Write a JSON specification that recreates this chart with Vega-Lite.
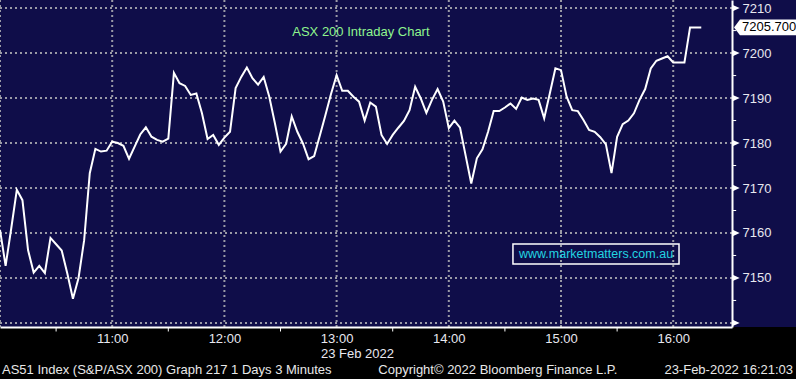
{
  "$schema": "https://vega.github.io/schema/vega-lite/v6.json",
  "width": 732,
  "height": 327,
  "autosize": {"type": "none"},
  "padding": {"left": 0, "top": 0, "right": 64, "bottom": 52},
  "background": "#0f0d49",
  "view": {"stroke": null},
  "layer": [
    {
      "data": {"values": [{}]},
      "mark": {"type": "rect", "fill": "#000000"},
      "encoding": {
        "x": {"datum": {"year":2022,"month":2,"date":23,"hours":9,"minutes":0}, "type": "temporal"},
        "x2": {"datum": {"year":2022,"month":2,"date":23,"hours":18,"minutes":0}},
        "y": {"datum": 7139.1, "type": "quantitative"},
        "y2": {"datum": 7110}
      }
    },
    {
      "data": {"values": [
        {"g":"2022-02-23T10:00"},{"g":"2022-02-23T11:00"},{"g":"2022-02-23T12:00"},{"g":"2022-02-23T13:00"},
        {"g":"2022-02-23T14:00"},{"g":"2022-02-23T15:00"},{"g":"2022-02-23T16:00"}
      ]},
      "mark": {"type": "rule", "stroke": "#9a9aa6", "strokeWidth": 2, "strokeDash": [2, 3]},
      "encoding": {
        "x": {"field": "g", "type": "temporal"},
        "y": {"datum": 7211.8, "type": "quantitative"},
        "y2": {"datum": 7139.1}
      }
    },
    {
      "data": {"values": [
        {"h":7140},{"h":7150},{"h":7160},{"h":7170},{"h":7180},{"h":7190},{"h":7200},{"h":7210}
      ]},
      "mark": {"type": "rule", "stroke": "#9a9aa6", "strokeWidth": 2, "strokeDash": [2, 3]},
      "encoding": {
        "y": {"field": "h", "type": "quantitative"},
        "x": {"datum": {"year":2022,"month":2,"date":23,"hours":10,"minutes":0}, "type": "temporal"},
        "x2": {"datum": {"year":2022,"month":2,"date":23,"hours":16,"minutes":31,"seconds":26}}
      }
    },
    {
      "data": {
        "values": [
          {"t":"2022-02-23T10:00","v":7160.7},{"t":"2022-02-23T10:03","v":7152.7},{"t":"2022-02-23T10:06","v":7161.0},
          {"t":"2022-02-23T10:09","v":7169.6},{"t":"2022-02-23T10:12","v":7167.3},{"t":"2022-02-23T10:15","v":7156.2},
          {"t":"2022-02-23T10:18","v":7151.2},{"t":"2022-02-23T10:21","v":7152.7},{"t":"2022-02-23T10:24","v":7151.1},
          {"t":"2022-02-23T10:27","v":7158.9},{"t":"2022-02-23T10:30","v":7157.5},{"t":"2022-02-23T10:33","v":7156.1},
          {"t":"2022-02-23T10:36","v":7151.0},{"t":"2022-02-23T10:39","v":7145.4},{"t":"2022-02-23T10:42","v":7150.0},
          {"t":"2022-02-23T10:45","v":7158.4},{"t":"2022-02-23T10:48","v":7173.3},{"t":"2022-02-23T10:51","v":7178.7},
          {"t":"2022-02-23T10:54","v":7178.1},{"t":"2022-02-23T10:57","v":7178.3},{"t":"2022-02-23T11:00","v":7180.3},
          {"t":"2022-02-23T11:03","v":7180.0},{"t":"2022-02-23T11:06","v":7179.4},{"t":"2022-02-23T11:09","v":7176.5},
          {"t":"2022-02-23T11:12","v":7179.2},{"t":"2022-02-23T11:15","v":7181.9},{"t":"2022-02-23T11:18","v":7183.5},
          {"t":"2022-02-23T11:21","v":7181.4},{"t":"2022-02-23T11:24","v":7180.7},{"t":"2022-02-23T11:27","v":7180.3},
          {"t":"2022-02-23T11:30","v":7181.0},{"t":"2022-02-23T11:33","v":7195.6},{"t":"2022-02-23T11:36","v":7193.3},
          {"t":"2022-02-23T11:39","v":7192.7},{"t":"2022-02-23T11:42","v":7190.7},{"t":"2022-02-23T11:45","v":7191.0},
          {"t":"2022-02-23T11:48","v":7186.6},{"t":"2022-02-23T11:51","v":7180.9},{"t":"2022-02-23T11:54","v":7181.8},
          {"t":"2022-02-23T11:57","v":7179.6},{"t":"2022-02-23T12:00","v":7181.2},{"t":"2022-02-23T12:03","v":7182.5},
          {"t":"2022-02-23T12:06","v":7192.2},{"t":"2022-02-23T12:09","v":7194.7},{"t":"2022-02-23T12:12","v":7196.8},
          {"t":"2022-02-23T12:15","v":7194.4},{"t":"2022-02-23T12:18","v":7193.0},{"t":"2022-02-23T12:21","v":7194.7},
          {"t":"2022-02-23T12:24","v":7190.3},{"t":"2022-02-23T12:27","v":7184.4},{"t":"2022-02-23T12:30","v":7178.1},
          {"t":"2022-02-23T12:33","v":7179.8},{"t":"2022-02-23T12:36","v":7185.9},{"t":"2022-02-23T12:39","v":7182.5},
          {"t":"2022-02-23T12:42","v":7179.9},{"t":"2022-02-23T12:45","v":7176.4},{"t":"2022-02-23T12:48","v":7177.1},
          {"t":"2022-02-23T12:51","v":7181.6},{"t":"2022-02-23T12:54","v":7186.2},{"t":"2022-02-23T12:57","v":7190.9},
          {"t":"2022-02-23T13:00","v":7195.1},{"t":"2022-02-23T13:03","v":7191.6},{"t":"2022-02-23T13:06","v":7191.6},
          {"t":"2022-02-23T13:09","v":7190.3},{"t":"2022-02-23T13:12","v":7189.2},{"t":"2022-02-23T13:15","v":7185.0},
          {"t":"2022-02-23T13:18","v":7189.0},{"t":"2022-02-23T13:21","v":7188.1},{"t":"2022-02-23T13:24","v":7181.8},
          {"t":"2022-02-23T13:27","v":7179.8},{"t":"2022-02-23T13:30","v":7181.8},{"t":"2022-02-23T13:33","v":7183.4},
          {"t":"2022-02-23T13:36","v":7184.9},{"t":"2022-02-23T13:39","v":7187.3},{"t":"2022-02-23T13:42","v":7192.5},
          {"t":"2022-02-23T13:45","v":7189.9},{"t":"2022-02-23T13:48","v":7186.7},{"t":"2022-02-23T13:51","v":7189.6},
          {"t":"2022-02-23T13:54","v":7192.0},{"t":"2022-02-23T13:57","v":7189.2},{"t":"2022-02-23T14:00","v":7183.3},
          {"t":"2022-02-23T14:03","v":7185.0},{"t":"2022-02-23T14:06","v":7183.4},{"t":"2022-02-23T14:09","v":7177.2},
          {"t":"2022-02-23T14:12","v":7171.0},{"t":"2022-02-23T14:15","v":7176.6},{"t":"2022-02-23T14:18","v":7178.6},
          {"t":"2022-02-23T14:21","v":7182.5},{"t":"2022-02-23T14:24","v":7187.1},{"t":"2022-02-23T14:27","v":7187.1},
          {"t":"2022-02-23T14:30","v":7187.9},{"t":"2022-02-23T14:33","v":7188.8},{"t":"2022-02-23T14:36","v":7187.6},
          {"t":"2022-02-23T14:39","v":7190.1},{"t":"2022-02-23T14:42","v":7189.6},{"t":"2022-02-23T14:45","v":7189.9},
          {"t":"2022-02-23T14:48","v":7189.6},{"t":"2022-02-23T14:51","v":7185.5},{"t":"2022-02-23T14:54","v":7191.0},
          {"t":"2022-02-23T14:57","v":7196.6},{"t":"2022-02-23T15:00","v":7196.2},{"t":"2022-02-23T15:03","v":7190.3},
          {"t":"2022-02-23T15:06","v":7187.3},{"t":"2022-02-23T15:09","v":7187.1},{"t":"2022-02-23T15:12","v":7185.1},
          {"t":"2022-02-23T15:15","v":7182.9},{"t":"2022-02-23T15:18","v":7182.5},{"t":"2022-02-23T15:21","v":7181.3},
          {"t":"2022-02-23T15:24","v":7179.7},{"t":"2022-02-23T15:27","v":7173.3},{"t":"2022-02-23T15:30","v":7181.4},
          {"t":"2022-02-23T15:33","v":7184.2},{"t":"2022-02-23T15:36","v":7185.0},{"t":"2022-02-23T15:39","v":7186.6},
          {"t":"2022-02-23T15:42","v":7189.6},{"t":"2022-02-23T15:45","v":7192.0},{"t":"2022-02-23T15:48","v":7196.6},
          {"t":"2022-02-23T15:51","v":7198.3},{"t":"2022-02-23T15:54","v":7198.8},{"t":"2022-02-23T15:57","v":7199.3},
          {"t":"2022-02-23T16:00","v":7197.9},{"t":"2022-02-23T16:03","v":7197.9},{"t":"2022-02-23T16:06","v":7197.9},
          {"t":"2022-02-23T16:09","v":7205.7},{"t":"2022-02-23T16:12","v":7205.7},{"t":"2022-02-23T16:15","v":7205.7}
        ]
      },
      "mark": {"type": "line", "stroke": "#ffffff", "strokeWidth": 2},
      "encoding": {
        "x": {
          "field": "t", "type": "temporal",
          "scale": {"domain": [{"year":2022,"month":2,"date":23,"hours":10,"minutes":0},{"year":2022,"month":2,"date":23,"hours":16,"minutes":31,"seconds":26}], "nice": false},
          "axis": {
            "values": [
              {"year":2022,"month":2,"date":23,"hours":11,"minutes":0},
              {"year":2022,"month":2,"date":23,"hours":12,"minutes":0},
              {"year":2022,"month":2,"date":23,"hours":13,"minutes":0},
              {"year":2022,"month":2,"date":23,"hours":14,"minutes":0},
              {"year":2022,"month":2,"date":23,"hours":15,"minutes":0},
              {"year":2022,"month":2,"date":23,"hours":16,"minutes":0}
            ],
            "format": "%H:%M",
            "grid": false,
            "ticks": false,
            "domainColor": "#ffffff",
            "domainWidth": 2,
            "labelColor": "#e8e8f0",
            "labelFont": "Liberation Sans",
            "labelFontSize": 13,
            "labelPadding": 5,
            "labelFlush": false,
            "labelOverlap": false,
            "title": "23 Feb 2022",
            "titleColor": "#e8e8f0",
            "titleFont": "Liberation Sans",
            "titleFontSize": 13,
            "titleFontWeight": "normal",
            "titleX": 357,
            "titlePadding": 2,
            "zindex": 1
          }
        },
        "y": {
          "field": "v", "type": "quantitative",
          "scale": {"domain": [7139.1, 7211.8], "nice": false, "zero": false},
          "axis": {
            "orient": "right",
            "values": [7150,7160,7170,7180,7190,7200,7210],
            "format": "d",
            "grid": false,
            "ticks": true,
            "tickSize": 6,
            "tickOpacity": 0,
            "domainColor": "#ffffff",
            "domainWidth": 2,
            "labelColor": "#e8e8f0",
            "labelFont": "Liberation Sans",
            "labelFontSize": 13,
            "labelPadding": 4,
            "labelFlush": false,
            "labelOverlap": false,
            "labelBaseline": "middle",
            "title": null,
            "zindex": 1
          }
        }
      }
    },
    {
      "data": {"values": [
        {"m":"2022-02-23T10:30"},{"m":"2022-02-23T11:30"},{"m":"2022-02-23T12:30"},
        {"m":"2022-02-23T13:30"},{"m":"2022-02-23T14:30"},{"m":"2022-02-23T15:30"}
      ]},
      "mark": {"type": "rule", "stroke": "#ffffff", "strokeWidth": 1},
      "encoding": {
        "x": {"field": "m", "type": "temporal"},
        "y": {"datum": 7139.1, "type": "quantitative"},
        "y2": {"datum": 7138.1}
      }
    },
    {
      "data": {"values": [
        {"n":7145},{"n":7155},{"n":7165},{"n":7175},{"n":7185},{"n":7195},{"n":7205}
      ]},
      "mark": {"type": "rule", "stroke": "#ffffff", "strokeWidth": 1},
      "encoding": {
        "y": {"field": "n", "type": "quantitative"},
        "x": {"datum": {"year":2022,"month":2,"date":23,"hours":16,"minutes":31,"seconds":26}, "type": "temporal"},
        "x2": {"datum": {"year":2022,"month":2,"date":23,"hours":16,"minutes":33,"seconds":40}}
      }
    },
    {
      "data": {"values": [
        {"k":7140},{"k":7150},{"k":7160},{"k":7170},{"k":7180},{"k":7190},{"k":7200},{"k":7210}
      ]},
      "mark": {"type": "point", "shape": "M-1,-0.9L1,0L-1,0.9Z", "filled": true, "fill": "#ffffff", "stroke": null, "opacity": 1, "size": 49},
      "encoding": {
        "y": {"field": "k", "type": "quantitative"},
        "x": {"datum": {"year":2022,"month":2,"date":23,"hours":16,"minutes":33,"seconds":40}, "type": "temporal"}
      }
    },
    {
      "data": {"values": [{}]},
      "mark": {"type": "point", "shape": "M-1,0L-0.82,-0.24L1,-0.24L1,0.24L-0.82,0.24Z", "filled": true, "fill": "#ffffff", "stroke": null, "opacity": 1, "size": 4356},
      "encoding": {
        "x": {"datum": {"year":2022,"month":2,"date":23,"hours":16,"minutes":50,"seconds":10}, "type": "temporal"},
        "y": {"datum": 7205.7, "type": "quantitative"}
      }
    },
    {
      "data": {"values": [{}]},
      "mark": {"type": "text", "text": "7205.700", "align": "left", "baseline": "middle", "font": "Liberation Sans", "fontSize": 13, "fill": "#000000"},
      "encoding": {
        "x": {"datum": {"year":2022,"month":2,"date":23,"hours":16,"minutes":36,"seconds":48}, "type": "temporal"},
        "y": {"datum": 7205.7, "type": "quantitative"}
      }
    },
    {
      "data": {"values": [{}]},
      "mark": {"type": "text", "text": "ASX 200 Intraday Chart", "align": "center", "baseline": "middle", "font": "Liberation Sans", "fontSize": 13, "fill": "#8ef58e"},
      "encoding": {
        "x": {"datum": {"year":2022,"month":2,"date":23,"hours":13,"minutes":13}, "type": "temporal"},
        "y": {"datum": 7204.7, "type": "quantitative"}
      }
    },
    {
      "data": {"values": [{}]},
      "mark": {"type": "rect", "fillOpacity": 0, "stroke": "#ffffff", "strokeWidth": 1.5},
      "encoding": {
        "x": {"datum": {"year":2022,"month":2,"date":23,"hours":14,"minutes":34,"seconds":18}, "type": "temporal"},
        "x2": {"datum": {"year":2022,"month":2,"date":23,"hours":16,"minutes":3,"seconds":6}},
        "y": {"datum": 7157.56, "type": "quantitative"},
        "y2": {"datum": 7153.11}
      }
    },
    {
      "data": {"values": [{}]},
      "mark": {"type": "text", "text": "www.marketmatters.com.au", "align": "center", "baseline": "middle", "font": "Liberation Sans", "fontSize": 12.5, "fill": "#22d4e0"},
      "encoding": {
        "x": {"datum": {"year":2022,"month":2,"date":23,"hours":15,"minutes":18,"seconds":43}, "type": "temporal"},
        "y": {"datum": 7155.33, "type": "quantitative"}
      }
    },
    {
      "data": {"values": [{}]},
      "mark": {"type": "text", "text": "AS51 Index (S&P/ASX 200) Graph 217 1 Days 3 Minutes", "align": "left", "baseline": "middle", "font": "Liberation Sans", "fontSize": 13, "fill": "#e8e8e8"},
      "encoding": {
        "x": {"datum": {"year":2022,"month":2,"date":23,"hours":10,"minutes":1,"seconds":4}, "type": "temporal"},
        "y": {"datum": 7129.56, "type": "quantitative"}
      }
    },
    {
      "data": {"values": [{}]},
      "mark": {"type": "text", "text": "Copyright© 2022 Bloomberg Finance L.P.", "align": "left", "baseline": "middle", "font": "Liberation Sans", "fontSize": 13, "fill": "#e8e8e8"},
      "encoding": {
        "x": {"datum": {"year":2022,"month":2,"date":23,"hours":13,"minutes":22,"seconds":18}, "type": "temporal"},
        "y": {"datum": 7129.56, "type": "quantitative"}
      }
    },
    {
      "data": {"values": [{}]},
      "mark": {"type": "text", "text": "23-Feb-2022 16:21:03", "align": "right", "baseline": "middle", "font": "Liberation Sans", "fontSize": 13, "fill": "#e8e8e8"},
      "encoding": {
        "x": {"datum": {"year":2022,"month":2,"date":23,"hours":17,"minutes":4,"seconds":5}, "type": "temporal"},
        "y": {"datum": 7129.56, "type": "quantitative"}
      }
    }
  ]
}
